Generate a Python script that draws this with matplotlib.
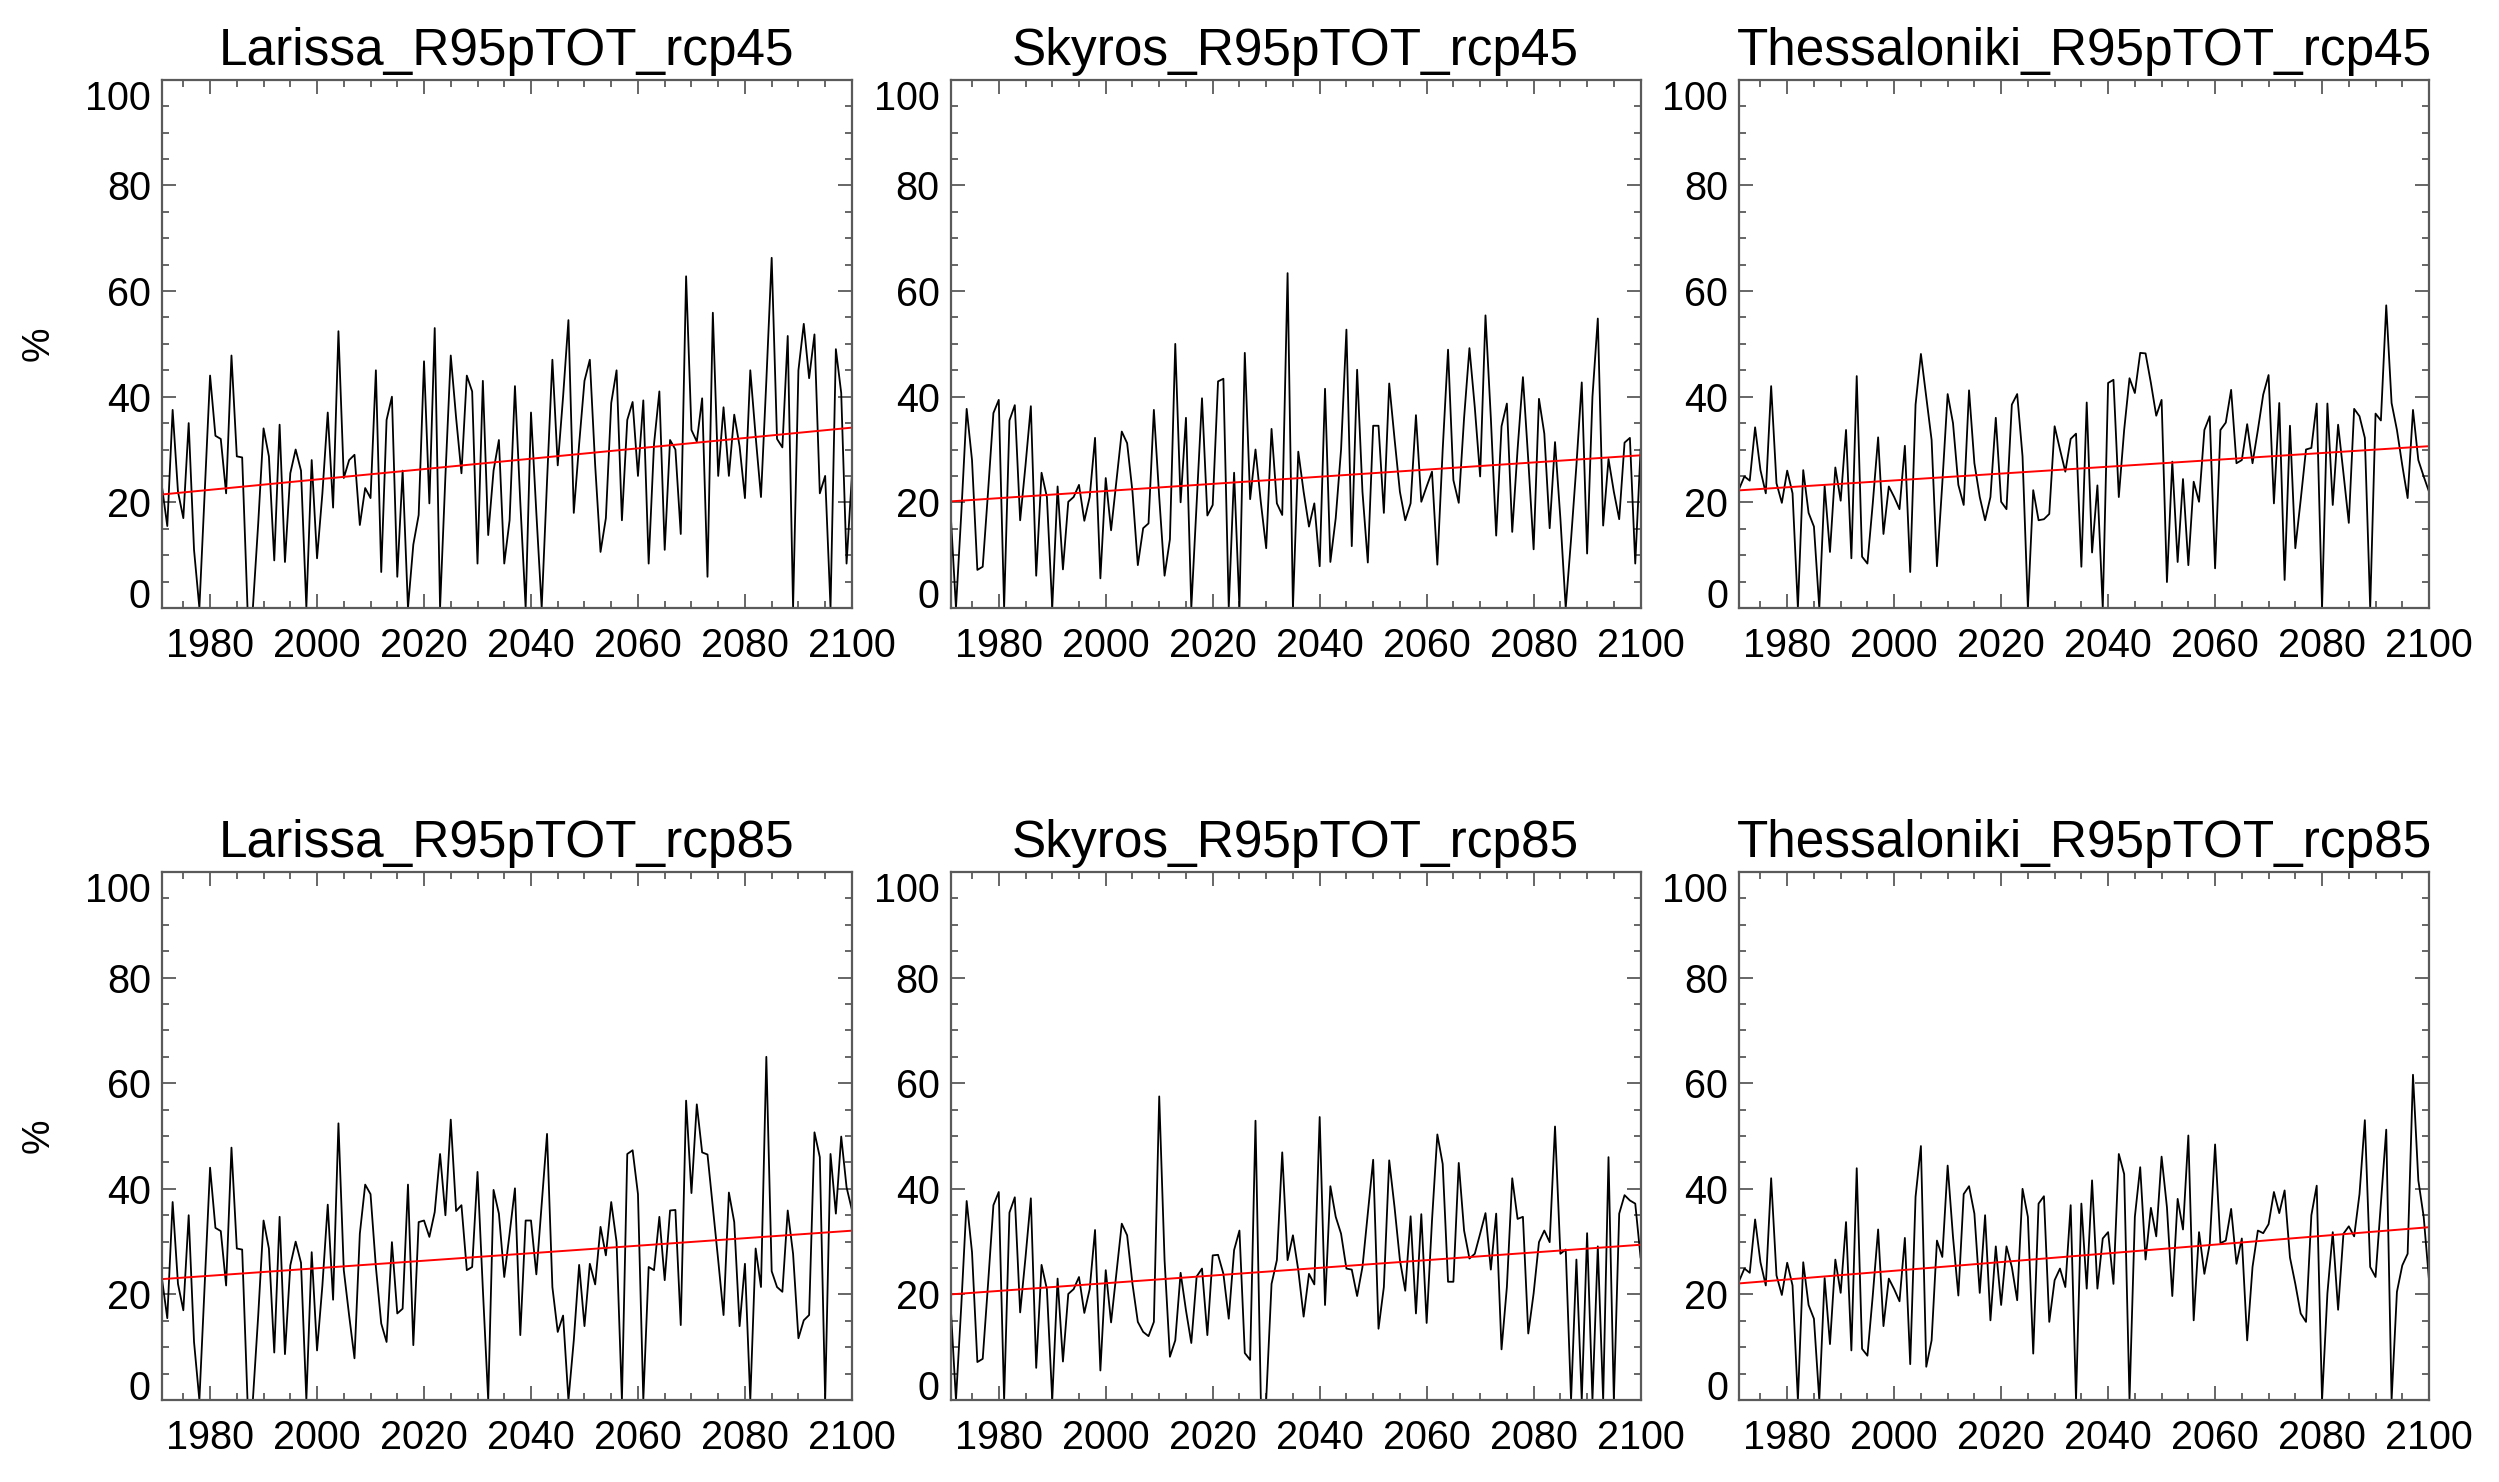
import numpy as np
import matplotlib
matplotlib.use('Agg')
import matplotlib.pyplot as plt
from matplotlib.ticker import MultipleLocator

plt.rcParams['font.family'] = ['Liberation Sans', 'DejaVu Sans']

# R95pTOT (%) per year, 1971-2005 historical run + 2006-2100 scenario
larissa_hist = [23, 15.5, 37.5, 22, 17, 35, 11, 0, 22, 44, 32.6, 32, 21.7, 47.8, 28.7, 28.5, 0, 0, 16, 34,
                28.7, 9, 34.7, 8.7, 25.5, 30, 26, 0, 28, 9.4, 21.7, 37, 19, 52.4, 24.6]
larissa_rcp45 = [28, 29, 15.7, 22.7, 20.8, 45, 6.8, 35.6, 40, 5.9,
                 26, 0, 12, 17.6, 46.7, 19.8, 53, 0, 25, 47.8,
                 36, 25.5, 44, 41, 8.4, 43, 13.8, 26, 31.8, 8.4,
                 16.6, 42, 20, 0, 37, 18, 0, 24, 47, 27,
                 40, 54.5, 18, 31, 43, 47, 27, 10.6, 17, 38.8,
                 45, 16.6, 35.6, 39, 25, 39.3, 8.4, 31, 41, 11,
                 31.8, 30, 14, 62.8, 33.7, 31.5, 39.7, 5.9, 55.9, 25,
                 38, 25, 36.6, 30.6, 20.8, 45, 32.5, 21, 43, 66.3,
                 32, 30.4, 51.5, 0, 45, 53.8, 43.5, 51.8, 21.7, 25,
                 0, 49, 40.7, 8.4, 25]
larissa_rcp85 = [16, 7.9, 31.5, 40.8, 39, 25.2, 14.5, 11, 29.9, 16.4,
                 17.3, 40.8, 10.4, 33.7, 34, 30.9, 35.6, 46.6, 35, 53.1,
                 35.8, 36.9, 24.6, 25.2, 43.2, 21, 0, 39.8, 35.3, 23.3,
                 31.5, 40.1, 12.3, 34, 34, 23.8, 37, 50.4, 21.4, 12.9,
                 16, 0, 11.3, 25.6, 14, 25.8, 21.9, 32.8, 27.4, 37.5,
                 29.9, 0, 46.6, 47.3, 39, 0, 25.2, 24.6, 34.7, 22.7,
                 35.9, 36, 14.2, 56.7, 39.2, 56, 46.9, 46.5, 36.5, 26.5,
                 16.1, 39.3, 33.7, 14, 25.8, 0, 28.7, 21.4, 65, 24.4,
                 21.4, 20.5, 35.9, 27.7, 11.7, 15.1, 16.1, 50.7, 46, 0,
                 46.6, 35.3, 49.9, 40.3, 36]

skyros_hist = [18, 0, 18, 37.7, 28, 7.2, 7.8, 22, 36.9, 39.4, 0, 35.5, 38.4, 16.6, 27, 38.2, 6.1, 25.6, 21, 0,
               23, 7.3, 20.1, 21, 23.3, 16.5, 21, 32.2, 5.6, 24.6, 14.7, 24, 33.4, 31.2, 22]
skyros_rcp45 = [8.1, 15.1, 16, 37.5, 21, 6.1, 13, 50, 20, 36,
                0, 20, 39.7, 17.5, 19.5, 42.9, 43.4, 0, 25.6, 0,
                48.3, 20.6, 30, 20, 11.3, 33.9, 19.8, 17.6, 63.4, 0,
                29.6, 22, 15.4, 19.8, 7.9, 41.5, 8.7, 17, 30, 52.7,
                11.7, 45.1, 22, 8.6, 34.5, 34.5, 18, 42.5, 32, 22,
                16.6, 19.8, 36.5, 20.1, 23, 25.8, 8.2, 30, 48.9, 24.2,
                19.9, 36, 49.2, 38, 24.9, 55.4, 36, 13.7, 34.4, 38.7,
                14.4, 30, 43.7, 28, 11.1, 39.6, 33, 15.1, 31.4, 17,
                0, 13, 27, 42.7, 10.3, 40, 54.8, 15.6, 28.2, 22,
                16.8, 31.3, 32.2, 8.4, 30]
skyros_rcp85 = [14.8, 12.9, 12.1, 14.8, 57.5, 26.5, 8.2, 11.3, 24.1, 17,
                10.8, 23.4, 24.9, 12.3, 27.4, 27.5, 23.9, 15.4, 28.4, 32.1,
                8.9, 7.6, 52.9, 0, 0, 22, 26.5, 46.9, 26.5, 31.2,
                24.6, 15.8, 23.9, 21.9, 53.6, 18, 40.5, 34.7, 31.5, 24.9,
                24.7, 19.7, 25.2, 35.3, 45.5, 13.5, 21.4, 45.4, 36.5, 26.5,
                20.7, 34.8, 16.4, 35.2, 14.6, 34, 50.3, 44.7, 22.4, 22.4,
                44.9, 32.1, 26.8, 27.7, 31.5, 35.4, 24.7, 35.3, 9.6, 21.4,
                42, 34.3, 34.7, 12.6, 20.2, 29.9, 32.1, 29.9, 51.8, 27.7,
                28.5, 0, 26.6, 0, 31.6, 0, 29.1, 0, 46, 0,
                35.3, 38.8, 37.8, 37.2, 27]

thess_hist = [22.5, 24.9, 24.1, 34.2, 26.1, 21.7, 42, 23.6, 19.9, 26, 21.7, 0, 26.1, 18, 15.4, 0, 23.1, 10.6, 26.6, 20.3,
              33.7, 9.4, 43.9, 9.7, 8.4, 19.8, 32.3, 14, 23, 21, 18.7, 30.7, 6.8, 38.5, 48.1]
thess_rcp45 = [40, 31.8, 7.9, 23.6, 40.5, 35, 23.3, 19.5, 41.2, 27.4,
               21, 16.6, 21, 36, 20.1, 18.7, 38.5, 40.5, 28.7, 0,
               22.3, 16.6, 16.8, 17.8, 34.4, 30, 25.8, 32, 33, 7.8,
               38.9, 10.5, 23.2, 0, 42.6, 43.2, 21, 33.7, 43.5, 40.7,
               48.3, 48.2, 42.6, 36.4, 39.4, 4.9, 27.7, 8.7, 24.4, 8.1,
               23.9, 20.1, 33.7, 36.3, 7.5, 33.7, 35.1, 41.3, 27.4, 28,
               34.8, 27.4, 33.7, 40.4, 44.1, 19.8, 38.8, 5.3, 34.5, 11.3,
               20.4, 30, 30.3, 38.7, 0, 38.7, 19.5, 34.7, 25.5, 16.1,
               37.7, 36.3, 32.2, 0, 36.8, 35.5, 57.3, 38.8, 33.7, 27,
               20.8, 37.5, 28, 24.9, 22]
thess_rcp85 = [6.3, 11.3, 30.2, 27.1, 44.4, 30.9, 19.8, 39, 40.5, 35.3,
               20.3, 35, 15.1, 29.1, 18, 29.1, 25.2, 18.9, 40, 34.7,
               8.8, 37.2, 38.6, 14.8, 22.7, 24.9, 21.4, 36.9, 0, 37.2,
               21.1, 41.6, 21.1, 30.6, 31.8, 22, 46.6, 42.8, 0, 34.7,
               44.1, 26.6, 36.4, 31, 46.1, 36.5, 19.7, 38.1, 32.3, 50.1,
               15.1, 31.8, 23.9, 29.6, 48.4, 29.7, 30.2, 36.2, 25.8, 30.6,
               11.3, 25.2, 32.1, 31.6, 33.3, 39.4, 35.4, 39.7, 27, 22,
               16.4, 14.8, 35, 40.6, 0, 20.2, 31.8, 17.1, 31.5, 32.9,
               31, 39, 53, 25.2, 23.3, 37.2, 51.2, 0, 20.5, 25.5,
               27.7, 61.6, 41.6, 34.7, 22.7]

stations = ['Larissa', 'Skyros', 'Thessaloniki']
scenarios = ['rcp45', 'rcp85']
series = {
    ('Larissa', 'rcp45'): larissa_hist + larissa_rcp45,
    ('Larissa', 'rcp85'): larissa_hist + larissa_rcp85,
    ('Skyros', 'rcp45'): skyros_hist + skyros_rcp45,
    ('Skyros', 'rcp85'): skyros_hist + skyros_rcp85,
    ('Thessaloniki', 'rcp45'): thess_hist + thess_rcp45,
    ('Thessaloniki', 'rcp85'): thess_hist + thess_rcp85,
}
yticks = [0, 20, 40, 60, 80, 100]
xticks = [1980, 2000, 2020, 2040, 2060, 2080, 2100]

fig = plt.figure(figsize=(24.99, 14.82), dpi=100)
lefts = [0.0648, 0.3804, 0.6959]
bottoms = [0.5898, 0.0553]
w, h = 0.2761, 0.3563
axcol = '#5a5a5a'

for row, scen in enumerate(scenarios):
    for col, st in enumerate(stations):
        vals = np.array(series[(st, scen)], dtype=float)
        years = 1971 + np.arange(len(vals))
        ax = fig.add_axes([lefts[col], bottoms[row], w, h])
        ax.plot(years, vals, color='black', lw=1.3)
        # linear trend
        k, b = np.polyfit(years, vals, 1)
        ax.plot(years, k * years + b, color='red', lw=1.4)

        ax.set_xlim(1971, 2100)
        ax.set_ylim(0, 100)
        ax.set_xticks(xticks)
        ax.set_yticks(yticks)
        ax.xaxis.set_minor_locator(MultipleLocator(5))
        ax.yaxis.set_minor_locator(MultipleLocator(5))
        ax.tick_params(which='both', direction='in', top=True, right=True, color=axcol, width=1.3)
        ax.tick_params(which='major', length=10)
        ax.tick_params(which='minor', length=5)
        ax.tick_params(axis='x', labelsize=28.5, pad=14)
        ax.tick_params(axis='y', labelsize=28.5, pad=8)
        # IDL keeps the end labels inside the axis range
        ylabs = ax.get_yticklabels()
        ylabs[0].set_va('baseline')
        ylabs[-1].set_va('top')
        for sp in ax.spines.values():
            sp.set_color(axcol)
            sp.set_linewidth(1.6)
        ax.set_title(st + '_R95pTOT_' + scen, fontsize=37, pad=11)
        if col == 0:
            ax.set_ylabel('%', fontsize=28)
            ax.yaxis.set_label_coords(-0.152, 0.5)

fig.savefig('out.png', dpi=100)
